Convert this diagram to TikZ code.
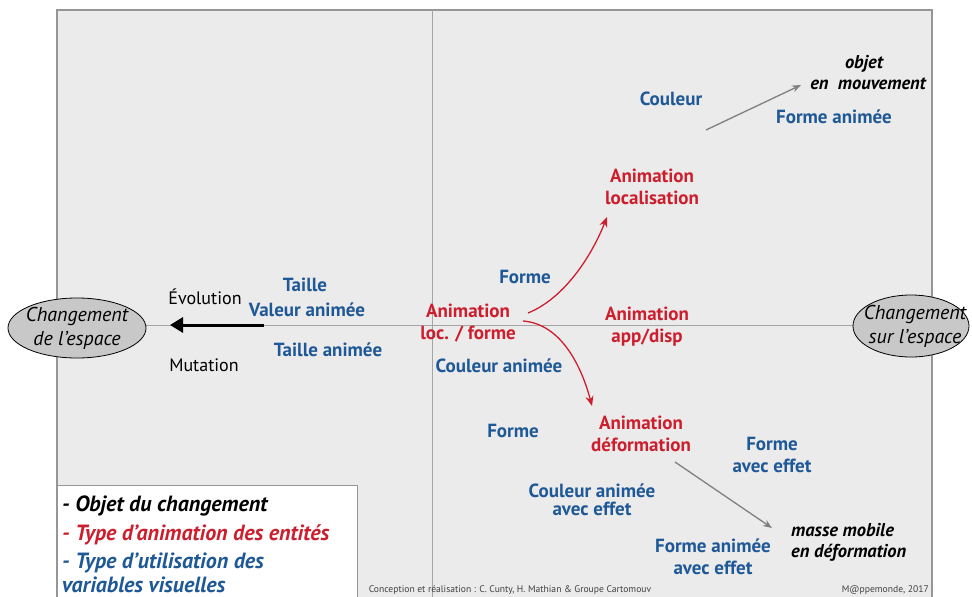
\documentclass[tikz,border=0pt]{standalone}
\usepackage{fontspec}
\setmainfont{PT Sans}
\usetikzlibrary{arrows.meta,shapes.geometric}
\definecolor{bgpanel}{RGB}{235,235,235}
\definecolor{bordergrey}{RGB}{150,150,150}
\definecolor{axisgrey}{RGB}{165,165,165}
\definecolor{bluetxt}{RGB}{30,88,150}
\definecolor{redtxt}{RGB}{205,30,45}
\definecolor{ellfill}{RGB}{200,200,200}
\tikzset{
  bluelab/.style={text=bluetxt,font=\fontsize{19}{22}\selectfont\bfseries,align=center,inner sep=1pt},
  redlab/.style={text=redtxt,font=\fontsize{19}{22}\selectfont\bfseries,align=center,inner sep=1pt},
  blacklab/.style={text=black,font=\fontsize{18}{20}\selectfont,align=center,inner sep=1pt},
  objlab/.style={text=black,font=\fontsize{18.5}{21}\selectfont\bfseries\itshape,inner sep=1pt},
  ellnode/.style={ellipse,draw=black,line width=0.8pt,fill=ellfill,inner sep=0pt},
  elltext/.style={font=\fontsize{20}{24}\selectfont\itshape,align=center,inner sep=0pt},
  legline/.style={font=\fontsize{22}{24}\selectfont\bfseries\itshape,anchor=west,inner sep=0pt},
  creditlab/.style={font=\fontsize{9.6}{11}\selectfont,text=black!75,inner sep=0pt},
  redarrow/.style={draw=redtxt,line width=1.3pt,-{Stealth[length=10pt,width=8pt]}},
  greyarrow/.style={draw=gray,line width=1.3pt,-{Stealth[length=9pt,width=7pt]}},
}
\begin{document}
\begin{tikzpicture}[x=1pt,y=-1pt]
\useasboundingbox (0,0) rectangle (972,597);
\fill[white] (0,0) rectangle (972,597);
% panel
\fill[bgpanel] (57,10) rectangle (932,600);
\draw[bordergrey,line width=1.6pt] (57,600) -- (57,10) -- (932,10) -- (932,600);
% axes
\draw[axisgrey,line width=1pt] (57,325) -- (932,325);
\draw[axisgrey,line width=1pt] (432,10) -- (432,600);
% ellipses
\node[ellnode,minimum width=138pt,minimum height=60pt] (left) at (77,328) {};
\node[elltext] (lefttxt) at (left.center) {Changement\\de l'espace};
\node[ellnode,minimum width=116pt,minimum height=62pt] (right) at (911,326) {};
\node[elltext] (righttxt) at (915,326) {Changement\\sur l'espace};
% left side
\coordinate (bstart) at (264,325);
\coordinate (bend) at (170,325);
\draw[line width=3pt,-{Triangle[length=13pt,width=15pt]}] (bstart) -- (bend);
\node[blacklab] (evol) at (205,297) {Évolution};
\node[blacklab] (mut) at (204,365) {Mutation};
\node[bluelab] (taille) at (305,285) {Taille};
\node[bluelab] (valeur) at (307,310) {Valeur animée};
\node[bluelab] (taillean) at (328,350) {Taille animée};
% centre
\node[redlab] (animlf) at (468,323) {Animation\\loc. / forme};
\node[bluelab] (forme1) at (525,277) {Forme};
\node[bluelab] (coulan) at (499,366) {Couleur animée};
\node[redlab] (animad) at (647,327) {Animation\\app/disp};
\node[redlab] (animloc) at (652,187) {Animation\\localisation};
\node[redlab] (animdef) at (641,434) {Animation\\déformation};
\coordinate (u0) at (528,313);
\coordinate (u1) at (607,217);
\coordinate (l0) at (523,321);
\coordinate (l1) at (592,406);
\draw[redarrow] (u0) .. controls (565,298) and (592,255) .. (u1);
\draw[redarrow] (l0) .. controls (562,324) and (582,368) .. (l1);
% top right
\node[bluelab] (couleur) at (671,99) {Couleur};
\node[bluelab] (formean) at (834,117) {Forme animée};
\node[objlab,align=center] (objet) at (864,73) {objet\\\hspace*{8pt}en~ mouvement};
\coordinate (g0) at (706,130);
\coordinate (g1) at (801,85);
\draw[greyarrow] (g0) -- (g1);
% bottom right
\node[bluelab] (forme2) at (513,431) {Forme};
\node[bluelab] (formeeff) at (772,455) {Forme\\avec effet};
\node[bluelab,font=\fontsize{19}{18}\selectfont\bfseries] (coulaneff) at (592,500) {Couleur animée\\avec effet};
\node[bluelab] (formeaneff) at (713,557) {Forme animée\\avec effet};
\node[objlab,align=left,anchor=west] (masse) at (790,542) {masse mobile\\en déformation};
\coordinate (h0) at (675,462);
\coordinate (h1) at (772,528);
\draw[greyarrow] (h0) -- (h1);
% legend
\fill[white] (57,485) rectangle (357,600);
\draw[bordergrey,line width=1pt] (57,600) -- (57,485) -- (357,485) -- (357,600);
\node[legline,text=black] (leg1) at (62,506) {- Objet du changement};
\node[legline,text=redtxt] (leg2) at (62,535) {- Type d'animation des entités};
\node[legline,text=bluetxt] (leg3) at (62,563) {- Type d'utilisation des};
\node[legline,text=bluetxt] (leg4) at (62,585) {variables visuelles};
% credits
\node[creditlab] (credit) at (510,590) {Conception et réalisation : C. Cunty, H. Mathian \& Groupe Cartomouv};
\node[creditlab,anchor=east] (mappe) at (929,590) {M@ppemonde, 2017};
\end{tikzpicture}
\end{document}
